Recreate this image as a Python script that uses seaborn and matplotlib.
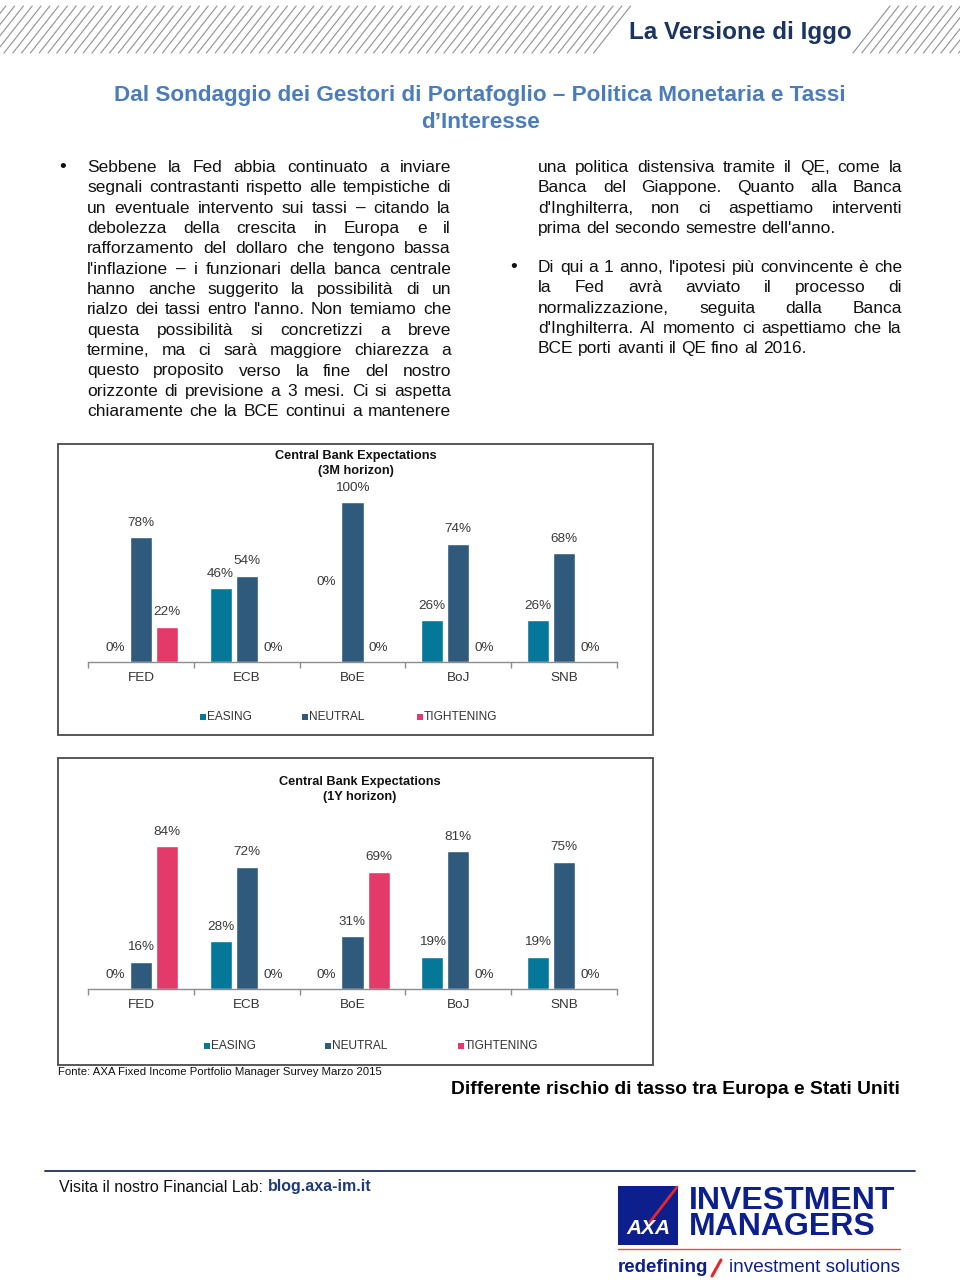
import matplotlib
matplotlib.use("Agg")
import matplotlib.pyplot as plt
import seaborn as sns
import pandas as pd
from matplotlib.patches import Rectangle
from matplotlib.lines import Line2D

# ---------------- data ----------------
banks = ["FED", "ECB", "BoE", "BoJ", "SNB"]
stances = ["EASING", "NEUTRAL", "TIGHTENING"]
easing_3m = [0, 46, 0, 26, 26]
neutral_3m = [78, 54, 100, 74, 68]
tightening_3m = [22, 0, 0, 0, 0]
easing_1y = [0, 28, 0, 19, 19]
neutral_1y = [16, 72, 31, 81, 75]
tightening_1y = [84, 0, 69, 0, 0]
colors = ["#05789a", "#2f5a7c", "#e43a6a"]

title_3m = "Central Bank Expectations\n(3M horizon)"
title_1y = "Central Bank Expectations\n(1Y horizon)"
source = "Fonte: AXA Fixed Income Portfolio Manager Survey Marzo 2015"

left_lines = [
    "Sebbene la Fed abbia continuato a inviare",
    "segnali contrastanti rispetto alle tempistiche di",
    "un eventuale intervento sui tassi – citando la",
    "debolezza della crescita in Europa e il",
    "rafforzamento del dollaro che tengono bassa",
    "l'inflazione – i funzionari della banca centrale",
    "hanno anche suggerito la possibilità di un",
    "rialzo dei tassi entro l'anno. Non temiamo che",
    "questa possibilità si concretizzi a breve",
    "termine, ma ci sarà maggiore chiarezza a",
    "questo proposito verso la fine del nostro",
    "orizzonte di previsione a 3 mesi. Ci si aspetta",
    "chiaramente che la BCE continui a mantenere",
]
right_lines_a = [
    "una politica distensiva tramite il QE, come la",
    "Banca del Giappone. Quanto alla Banca",
    "d'Inghilterra, non ci aspettiamo interventi",
    "prima del secondo semestre dell'anno.",
]
right_lines_b = [
    "Di qui a 1 anno, l'ipotesi più convincente è che",
    "la Fed avrà avviato il processo di",
    "normalizzazione, seguita dalla Banca",
    "d'Inghilterra. Al momento ci aspettiamo che la",
    "BCE porti avanti il QE fino al 2016.",
]

FONT = "Liberation Sans"

sns.set_theme(style="white")
plt.rcParams["font.family"] = [FONT, "DejaVu Sans"]

W, H = 960, 1280
fig = plt.figure(figsize=(9.6, 12.8), dpi=100)
fig.patch.set_facecolor("white")


def fx(x):
    return x / W


def fy(y):
    return 1 - y / H


def ftext(x, y, s, **kw):
    return fig.text(fx(x), fy(y), s, **kw)


# ---------------- header hatching ----------------
def hatch(b_start, b_end, step=8.8, dx=37, y0=53, y1=6):
    b = b_start
    while b <= b_end:
        fig.add_artist(Line2D([fx(b), fx(b + dx)], [fy(y0), fy(y1)],
                              color="#969696", lw=0.85))
        b += step


hatch(-40, 594)
hatch(853, 970)

ftext(740, 33, "La Versione di Iggo", ha="center", va="center",
      fontsize=17.5, fontweight="bold", color="#1b3560")
ftext(480, 96, "Dal Sondaggio dei Gestori di Portafoglio – Politica Monetaria e Tassi",
      ha="center", va="center", fontsize=16.2, fontweight="bold", color="#4a7dba")
ftext(480, 122, "d’Interesse", ha="center", va="center", fontsize=16.2,
      fontweight="bold", color="#4a7dba")

# ---------------- justified body text ----------------
renderer = fig.canvas.get_renderer()
BODY = dict(fontsize=12.5, color="#111111", family=FONT)


def text_width(s):
    t = fig.text(0, 0, s, **BODY)
    w = t.get_window_extent(renderer).width
    t.remove()
    return w


space_w = text_width("a b") - text_width("ab")


def para(lines, x0, x1, y_first, dy, last_left=True):
    for i, line in enumerate(lines):
        y = y_first + i * dy + 5
        words = line.split(" ")
        widths = [text_width(w) for w in words]
        is_last = (i == len(lines) - 1) and last_left
        if is_last or len(words) == 1:
            gap = space_w
        else:
            gap = (x1 - x0 - sum(widths)) / (len(words) - 1)
        x = x0
        for w, wd in zip(words, widths):
            ftext(x, y, w, ha="left", va="baseline", **BODY)
            x += wd + gap


ftext(63, 167, "•", ha="center", va="center", fontsize=14, color="#111111")
para(left_lines, 87, 451, 167, 20.35, last_left=False)
para(right_lines_a, 538, 902, 167, 20.35, last_left=True)
ftext(514, 267, "•", ha="center", va="center", fontsize=14, color="#111111")
para(right_lines_b, 538, 902, 267, 20.35, last_left=True)


# ---------------- charts ----------------
def chart(box, axis_px, title, title_xy, easing, neutral, tightening,
          legend_x, legend_y, nudges):
    bx0, by0, bx1, by1 = box
    fig.add_artist(Rectangle((fx(bx0), fy(by1)), fx(bx1 - bx0), (by1 - by0) / H,
                             fill=False, ec="#4a4a4a", lw=1.3))
    ax_x0, ax_x1, base_y, h100 = axis_px
    ax = fig.add_axes([fx(ax_x0), fy(base_y), fx(ax_x1 - ax_x0), h100 / H])
    df = pd.DataFrame({
        "bank": banks * 3,
        "stance": [stances[0]] * 5 + [stances[1]] * 5 + [stances[2]] * 5,
        "value": easing + neutral + tightening,
    })
    sns.barplot(data=df, x="bank", y="value", hue="stance", order=banks,
                hue_order=stances, palette=colors, width=0.74, gap=0.15,
                legend=False, ax=ax, errorbar=None, saturation=1)
    ax.set_xlim(-0.5, 4.5)
    ax.set_ylim(0, 100)
    ax.set_facecolor("none")
    for s in ["left", "top", "right"]:
        ax.spines[s].set_visible(False)
    ax.spines["bottom"].set_color("#8c8c8c")
    ax.spines["bottom"].set_linewidth(1.0)
    ax.set_yticks([])
    ax.set_xlabel("")
    ax.set_ylabel("")
    ax.set_xticks(range(len(banks)))
    ax.set_xticklabels(banks, fontsize=9.7, color="#333333")
    ax.set_xticks([i - 0.5 for i in range(len(banks) + 1)], minor=True)
    ax.tick_params(axis="x", which="major", length=0, pad=7)
    ax.tick_params(axis="x", which="minor", length=4.5, width=1.0,
                   color="#8c8c8c", direction="out", bottom=True)
    for k, cont in enumerate(ax.containers):
        vals = [easing, neutral, tightening][k]
        anns = ax.bar_label(cont, labels=[f"{v:.0f}%" for v in vals], padding=6,
                            fontsize=9.7, color="#3a3a3a")
        for j, a in enumerate(anns):
            key = (banks[j], stances[k])
            if key in nudges:
                a.xyann = (a.xyann[0], a.xyann[1] + nudges[key])
    # title
    tx, ty = title_xy
    fig.text(fx(tx), fy(ty), title, ha="center", va="top", fontsize=9.2,
             fontweight="bold", color="#111111", linespacing=1.35)
    # legend
    for lx, name, c in zip(legend_x, stances, colors):
        fig.add_artist(Rectangle((fx(lx - 3), fy(legend_y + 3)), 6 / W, 6 / H,
                                 fc=c, ec="none"))
        ftext(lx + 4, legend_y, name, ha="left", va="center", fontsize=8.6,
              color="#333333")
    return ax


chart((58, 444, 653, 735), (88, 617, 662, 160), title_3m, (356, 450),
      easing_3m, neutral_3m, tightening_3m, (203, 305, 420), 717,
      {("BoE", "EASING"): 47})
chart((58, 758, 653, 1065), (88, 617, 989, 170), title_1y, (360, 776),
      easing_1y, neutral_1y, tightening_1y, (207, 328, 461), 1046, {})

ftext(58, 1072, source, ha="left", va="center", fontsize=8.2, color="#111111")
ftext(451, 1090, "Differente rischio di tasso tra Europa e Stati Uniti", ha="left",
      va="center", fontsize=13.9, fontweight="bold", color="#000000")

# ---------------- footer ----------------
fig.add_artist(Line2D([fx(45), fx(915)], [fy(1171), fy(1171)], color="#2b3f6b", lw=1.4))
t1 = ftext(59, 1187, "Visita il nostro Financial Lab: ", ha="left", va="center",
           fontsize=11.5, color="#111111")
w1 = t1.get_window_extent(renderer).width
ftext(59 + w1, 1187, "blog.axa-im.it", ha="left", va="center", fontsize=11.5,
      fontweight="bold", color="#1f3b7a")

AXA_BLUE = "#0c1f8c"
fig.add_artist(Rectangle((fx(618), fy(1245)), 60 / W, 59 / H, fc=AXA_BLUE, ec="none"))
fig.add_artist(Line2D([fx(677), fx(650)], [fy(1187), fy(1222)], color="#e8262e", lw=2))
ftext(648, 1229, "AXA", ha="center", va="center", fontsize=15, fontweight="bold",
      style="italic", color="white")
ftext(689, 1214, "INVESTMENT\nMANAGERS", ha="left", va="center", fontsize=23,
      fontweight="bold", color=AXA_BLUE, linespacing=0.82)
fig.add_artist(Line2D([fx(618), fx(900)], [fy(1249), fy(1249)], color="#e05050", lw=1))
ftext(618, 1268, "redefining", ha="left", va="center", fontsize=13.5,
      fontweight="bold", color=AXA_BLUE)
fig.add_artist(Line2D([fx(712), fx(721)], [fy(1276), fy(1260)], color="#e8262e", lw=2.2))
ftext(900, 1268, "investment solutions", ha="right", va="center", fontsize=13.7,
      color=AXA_BLUE)

fig.savefig("out.png", dpi=100, facecolor="white")
